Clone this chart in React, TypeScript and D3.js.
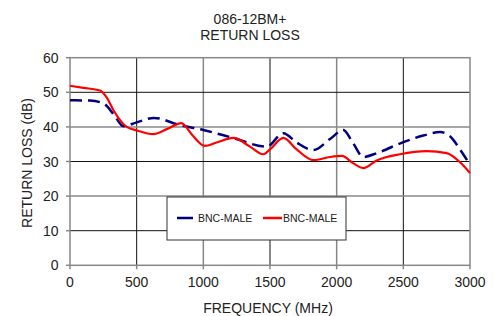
import React from "react";
import * as d3 from "d3";

const xTicks = [0, 500, 1000, 1500, 2000, 2500, 3000];
const yTicks = [0, 10, 20, 30, 40, 50, 60];

const blueFreq = [0, 150, 250, 330, 400, 500, 630, 825, 1000, 1225, 1475, 1600, 1700, 1825, 1950, 2050, 2120, 2200, 2300, 2500, 2650, 2775, 2850, 2925, 3000];
const blueDb = [47.7, 47.6, 46.8, 43.5, 40.2, 41.3, 42.6, 40.5, 39.1, 36.8, 34.3, 38.2, 35.5, 33.3, 36.5, 39.1, 35.5, 31.3, 32.4, 35.6, 37.5, 38.5, 37.3, 33.5, 29];

const redFreq = [0, 100, 225, 275, 325, 425, 500, 625, 735, 835, 920, 1010, 1100, 1225, 1350, 1450, 1500, 1600, 1700, 1825, 1950, 2040, 2120, 2200, 2300, 2475, 2675, 2825, 2925, 3000];
const redDb = [51.9, 51.3, 50.5, 48.5, 44.9, 40, 39, 37.9, 39.5, 41.1, 37.5, 34.5, 35.5, 36.8, 34.3, 32.1, 33.5, 36.8, 33.5, 30.4, 31.3, 31.6, 29.6, 28.1, 30.3, 32.1, 33, 32.4, 29.8, 26.7];

const seriesNames = ["BNC-MALE", "BNC-MALE"];
const titleLines = ["086-12BM+", "RETURN LOSS"];

export default function App() {
  const W = 497, H = 316;
  const left = 70, right = 470, top = 57.7, bottom = 265.3;
  const x = d3.scaleLinear().domain([0, 3000]).range([left, right]);
  const y = d3.scaleLinear().domain([0, 60]).range([bottom, top]);
  const line = d3.line<[number, number]>().x(d => x(d[0])).y(d => y(d[1])).curve(d3.curveMonotoneX);
  const blue = line(blueFreq.map((f, i) => [f, blueDb[i]]) as [number, number][]) || "";
  const red = line(redFreq.map((f, i) => [f, redDb[i]]) as [number, number][]) || "";
  const font = "'Liberation Sans', Arial, sans-serif";
  const txt = "#222";
  const fs = 14;
  const lx = 167, ly = 197, lw = 179, lh = 43;
  return (
    <svg width={W} height={H} style={{ position: "absolute", left: 0, top: 0, background: "#fff" }} fontFamily={font}>
      <rect x={0} y={0} width={W} height={H} fill="#fff" />
      {titleLines.map((t, i) => (
        <text key={i} x={250} y={23.5 + i * 16.5} textAnchor="middle" fontSize={fs} fill={txt}>{t}</text>
      ))}
      {xTicks.slice(1, -1).map((v, i) => (
        <line key={"gx" + v} x1={x(v)} x2={x(v)} y1={top} y2={bottom} stroke={i % 2 === 0 ? "#111" : "#888"} strokeWidth={i % 2 === 0 ? 1 : 1.5} />
      ))}
      {yTicks.slice(1, -1).map((v, i) => (
        <line key={"gy" + v} x1={left} x2={right} y1={y(v)} y2={y(v)} stroke={(yTicks.length - 2 - i) % 2 === 1 ? "#111" : "#888"} strokeWidth={(yTicks.length - 2 - i) % 2 === 1 ? 1 : 1.5} />
      ))}
      <rect x={left} y={top} width={right - left} height={bottom - top} fill="none" stroke="#888" strokeWidth={1.5} />
      {xTicks.map(v => (
        <line key={"tx" + v} x1={x(v)} x2={x(v)} y1={bottom} y2={bottom + 4} stroke="#888" strokeWidth={1.5} />
      ))}
      {yTicks.map(v => (
        <line key={"ty" + v} x1={left - 4} x2={left} y1={y(v)} y2={y(v)} stroke="#888" strokeWidth={1.5} />
      ))}
      {xTicks.map(v => (
        <text key={"lx" + v} x={x(v)} y={287} textAnchor="middle" fontSize={fs} fill={txt}>{v}</text>
      ))}
      {yTicks.map(v => (
        <text key={"ly" + v} x={58.5} y={y(v) + 5} textAnchor="end" fontSize={fs} fill={txt}>{v}</text>
      ))}
      <text x={268} y={313} textAnchor="middle" fontSize={fs} fill={txt}>FREQUENCY (MHz)</text>
      <text transform={`translate(32,163) rotate(-90)`} textAnchor="middle" fontSize={fs} fill={txt}>RETURN LOSS (dB)</text>
      <path d={blue} fill="none" stroke="#000080" strokeWidth={2.5} strokeDasharray="12,6" />
      <path d={red} fill="none" stroke="#ff0000" strokeWidth={2.2} />
      <rect x={lx} y={ly} width={lw} height={lh} fill="#fff" stroke="#333" strokeWidth={1} />
      <line x1={177} x2={193} y1={218} y2={218} stroke="#000080" strokeWidth={2.5} />
      <text x={198} y={222} fontSize={10.5} fill={txt}>{seriesNames[0]}</text>
      <line x1={263} x2={282} y1={218} y2={218} stroke="#ff0000" strokeWidth={2.5} />
      <text x={283} y={222} fontSize={10.5} fill={txt}>{seriesNames[1]}</text>
    </svg>
  );
}
